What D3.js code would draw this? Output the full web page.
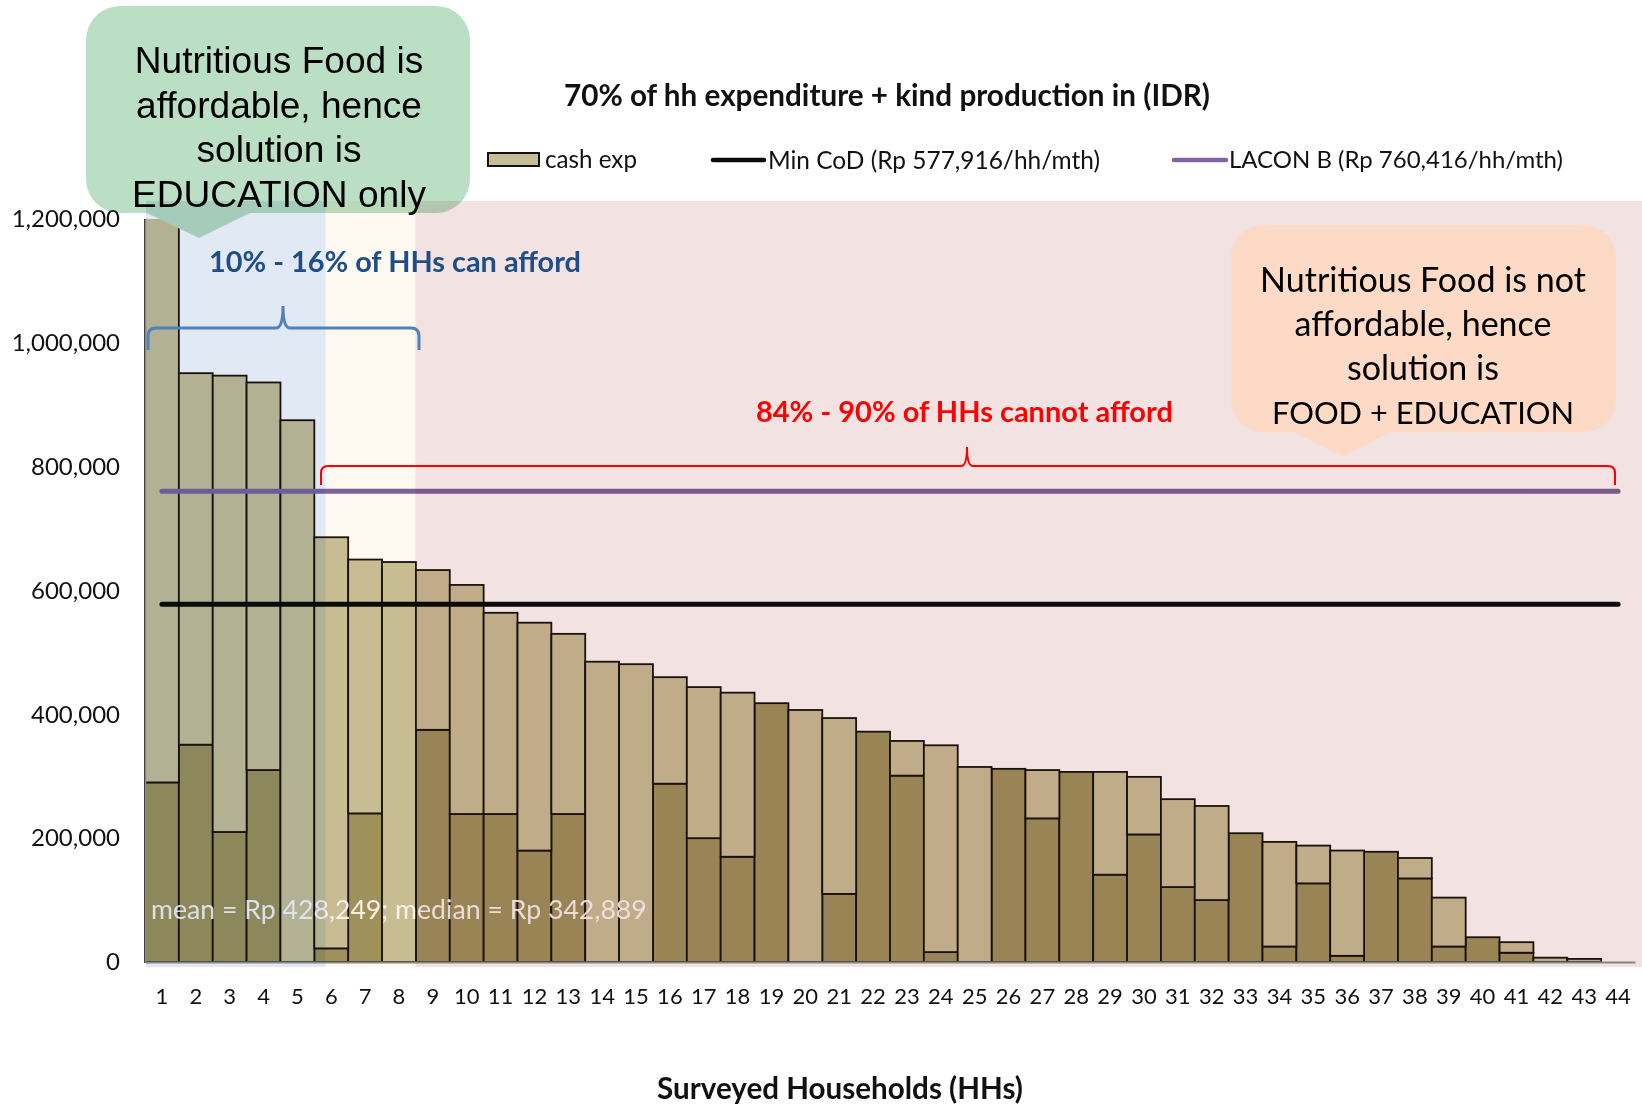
<!DOCTYPE html>
<html>
<head>
<meta charset="utf-8">
<script src="https://cdn.jsdelivr.net/npm/d3@7"></script>
<style>
  html, body { margin: 0; padding: 0; background: #fff; }
  svg { display: block; }
  .tint { mix-blend-mode: multiply; }
</style>
</head>
<body>
<svg id="chart" width="1642" height="1104"></svg>
<script>
// ---- data -------------------------------------------------------------
// surveyed households, ranked by total monthly value (IDR)
const households = d3.range(1, 45);

// in-kind production (lower, darker segment)
const kindProduction = [
  290000, 351000, 210000, 310000, 0, 22000, 240000, 0, 375000, 239000,
  239000, 180000, 239000, 0, 0, 288000, 200000, 170000, 418000, 0,
  110000, 372000, 301000, 16000, 0, 312000, 232000, 307000, 141000, 206000,
  121000, 100000, 208000, 25000, 127000, 10000, 178000, 135000, 25000, 40000,
  15000, 0, 0, 0
];

// cash expenditure (upper, lighter segment)
const cashExp = [
  1700000, 600000, 737000, 626000, 875000, 664000, 410000, 646000, 258000, 370000,
  325000, 368000, 291000, 485000, 481000, 172000, 244000, 265000, 0, 407000,
  284000, 0, 56000, 334000, 315000, 0, 78000, 0, 166000, 93000,
  142000, 152000, 0, 169000, 61000, 170000, 0, 33000, 79000, 0,
  17000, 7000, 5000, 0
];

// reference cost-of-diet thresholds (Rp / hh / month)
const minCoD = 577916;
const laconB = 760416;

const yTicks = [0, 200000, 400000, 600000, 800000, 1000000, 1200000];

const seriesKeys = ["kind", "cash"];
const seriesColors = { kind: "#A09560", cash: "#CAC29B" };

// ---- setup ------------------------------------------------------------
const svg = d3.select("#chart");
const W = 1642, H = 1104;
const plot = { left: 145, right: 1635, top: 219, bottom: 962 };

svg.append("rect").attr("width", W).attr("height", H).attr("fill", "#fff");

const x = d3.scaleBand().domain(households).range([plot.left, plot.right]).padding(0);
const y = d3.scaleLinear().domain([0, 1200000]).range([plot.bottom, plot.top]);

const CAL = "Lato, 'Open Sans', sans-serif";
const ARIAL = "'Liberation Sans', Arial, sans-serif";

// scale a text's font size so that it spans the given width
function fitText(t, width) {
  const len = t.node().getComputedTextLength();
  const fs = parseFloat(t.attr("font-size"));
  t.attr("font-size", (fs * width / len).toFixed(2));
  return t;
}

svg.append("clipPath").attr("id", "plotClip")
  .append("rect")
  .attr("x", plot.left - 5).attr("y", plot.top)
  .attr("width", W - plot.left + 5).attr("height", plot.bottom - plot.top + 10);

// ---- stacked bars -----------------------------------------------------
const rows = households.map((h, i) => ({ hh: h, kind: kindProduction[i], cash: cashExp[i] }));
const stacked = d3.stack().keys(seriesKeys)(rows);

const barG = svg.append("g").attr("clip-path", "url(#plotClip)");
barG.selectAll("g.layer")
  .data(stacked)
  .join("g")
  .attr("class", "layer")
  .attr("fill", d => seriesColors[d.key])
  .selectAll("rect")
  .data(d => d)
  .join("rect")
  .attr("x", d => x(d.data.hh))
  .attr("width", x.bandwidth())
  .attr("y", d => y(d[1]))
  .attr("height", d => y(d[0]) - y(d[1]))
  .attr("stroke", "#1a130e")
  .attr("stroke-width", 1.8);

// ---- threshold lines --------------------------------------------------
const ends = [households[0], households[households.length - 1]];
const hLine = v => d3.line()
  .x(d => x(d) + x.bandwidth() / 2)
  .y(() => y(v))(ends);

svg.append("path").attr("d", hLine(minCoD))
  .attr("stroke", "#0b0b0b").attr("stroke-width", 5)
  .attr("stroke-linecap", "round").attr("fill", "none");
svg.append("path").attr("d", hLine(laconB))
  .attr("stroke", "#8064A2").attr("stroke-width", 5)
  .attr("stroke-linecap", "round").attr("fill", "none");

// ---- summary statistic note -------------------------------------------
const meanTxt = svg.append("text")
  .attr("x", 151).attr("y", 910).attr("dy", "0.35em")
  .attr("font-family", CAL).attr("font-size", 26)
  .attr("fill", "#fff").attr("fill-opacity", 0.92)
  .text("mean = Rp 428,249; median = Rp 342,889");
fitText(meanTxt, 496);

// ---- callout: affordable -----------------------------------------------
const greenCallout = svg.append("g");
greenCallout.append("path")
  .attr("d", "M120,6 H436 A34,34 0 0 1 470,40 V179 A34,34 0 0 1 436,213 H250 L199,238 L147,213 H120 A34,34 0 0 1 86,179 V40 A34,34 0 0 1 120,6 Z")
  .attr("fill", "#BBDFC4");
const greenLines = ["Nutritious Food is", "affordable, hence", "solution is", "EDUCATION only"];
const greenY = [60, 105, 149, 194];
const gText = greenCallout.selectAll("text")
  .data(greenLines)
  .join("text")
  .attr("x", 279).attr("y", (d, i) => greenY[i]).attr("dy", "0.35em")
  .attr("text-anchor", "middle")
  .attr("font-family", ARIAL).attr("font-size", 34).attr("fill", "#000")
  .text(d => d);
{
  const widest = gText.filter((d, i) => i === 3);
  fitText(widest, 294);
  gText.attr("font-size", widest.attr("font-size"));
}

// ---- tinted household groups (multiply) --------------------------------
const bands = [
  { x0: 146, x1: 325.5, color: "#E1E9F4" },
  { x0: 325.5, x1: 415.5, color: "#FDF8F0" },
  { x0: 415.5, x1: W, color: "#F3E2E2" }
];
svg.append("g").selectAll("rect")
  .data(bands)
  .join("rect")
  .attr("class", "tint")
  .attr("x", d => d.x0).attr("width", d => d.x1 - d.x0)
  .attr("y", 201).attr("height", 967 - 201)
  .attr("fill", d => d.color);

// ---- axes -------------------------------------------------------------
const yAxis = svg.append("g")
  .attr("transform", `translate(${plot.left},0)`)
  .call(d3.axisLeft(y).tickValues(yTicks).tickFormat(d3.format(",")).tickSize(0).tickPadding(25));
yAxis.select(".domain").attr("stroke", "#8a8a8a").attr("stroke-width", 1.5);
yAxis.selectAll("text")
  .attr("font-family", CAL).attr("font-size", 24).attr("fill", "#111");

const xAxis = svg.append("g")
  .attr("transform", `translate(0,${plot.bottom})`)
  .call(d3.axisBottom(x).tickSize(0).tickPadding(26));
xAxis.select(".domain").attr("stroke", "#858585").attr("stroke-width", 2);
xAxis.selectAll("text")
  .attr("font-family", CAL).attr("font-size", 22).attr("fill", "#111");

const xTitle = svg.append("text")
  .attr("x", 840).attr("y", 1089).attr("dy", "0.35em")
  .attr("text-anchor", "middle")
  .attr("font-family", CAL).attr("font-weight", "bold").attr("font-size", 26)
  .attr("fill", "#111")
  .text("Surveyed Households (HHs)");
fitText(xTitle, 366);

// ---- title & legend ---------------------------------------------------
const title = svg.append("text")
  .attr("x", 887).attr("y", 96).attr("dy", "0.35em")
  .attr("text-anchor", "middle")
  .attr("font-family", CAL).attr("font-weight", "bold").attr("font-size", 27)
  .attr("fill", "#111")
  .text("70% of hh expenditure + kind production in (IDR)");
fitText(title, 646);

const legend = svg.append("g");
legend.append("rect")
  .attr("x", 488).attr("y", 153).attr("width", 51).attr("height", 13)
  .attr("fill", "#C5BD97").attr("stroke", "#111").attr("stroke-width", 2);
fitText(legend.append("text")
  .attr("x", 545).attr("y", 160).attr("dy", "0.35em")
  .attr("font-family", CAL).attr("font-size", 22).attr("fill", "#111")
  .text("cash exp"), 92);

legend.append("line")
  .attr("x1", 713).attr("x2", 764).attr("y1", 160).attr("y2", 160)
  .attr("stroke", "#0b0b0b").attr("stroke-width", 4.5).attr("stroke-linecap", "round");
fitText(legend.append("text")
  .attr("x", 768).attr("y", 160).attr("dy", "0.35em")
  .attr("font-family", CAL).attr("font-size", 22).attr("fill", "#111")
  .text("Min CoD (Rp 577,916/hh/mth)"), 332);

legend.append("line")
  .attr("x1", 1174).attr("x2", 1226).attr("y1", 160).attr("y2", 160)
  .attr("stroke", "#8064A2").attr("stroke-width", 4.5).attr("stroke-linecap", "round");
fitText(legend.append("text")
  .attr("x", 1229).attr("y", 160).attr("dy", "0.35em")
  .attr("font-family", CAL).attr("font-size", 22).attr("fill", "#111")
  .text("LACON B (Rp 760,416/hh/mth)"), 334);

// ---- group annotations ------------------------------------------------
svg.append("path")
  .attr("d", "M148,350 L148,336 Q148,328 156,328 L276,328 Q283,328 283,306 Q283,328 290,328 L411,328 Q419,328 419,336 L419,350")
  .attr("fill", "none").attr("stroke", "#4F81BD").attr("stroke-width", 3);
fitText(svg.append("text")
  .attr("x", 209).attr("y", 262).attr("dy", "0.35em")
  .attr("font-family", CAL).attr("font-weight", "bold").attr("font-size", 26)
  .attr("fill", "#1F4E87")
  .text("10% - 16% of HHs can afford"), 372);

svg.append("path")
  .attr("d", "M321,485 L321,473 Q321,466 328,466 L961,466 Q967,466 967,447 Q967,466 973,466 L1608,466 Q1615,466 1615,473 L1615,485")
  .attr("fill", "none").attr("stroke", "#FF0000").attr("stroke-width", 2);
fitText(svg.append("text")
  .attr("x", 756).attr("y", 412).attr("dy", "0.35em")
  .attr("font-family", CAL).attr("font-weight", "bold").attr("font-size", 28)
  .attr("fill", "#FF0000")
  .text("84% - 90% of HHs cannot afford"), 417);

// ---- callout: not affordable ------------------------------------------
const peach = svg.append("g");
peach.append("path")
  .attr("d", "M1263,225 H1584 A32,32 0 0 1 1616,257 V400 A32,32 0 0 1 1584,432 H1390 L1343,457 L1293,432 H1263 A32,32 0 0 1 1231,400 V257 A32,32 0 0 1 1263,225 Z")
  .attr("fill", "#FCDAC6");
const peachLines = ["Nutritious Food is not", "affordable, hence", "solution is", "FOOD + EDUCATION"];
const peachY = [280, 324, 368, 413];
const pText = peach.selectAll("text")
  .data(peachLines)
  .join("text")
  .attr("x", 1423).attr("y", (d, i) => peachY[i]).attr("dy", "0.35em")
  .attr("text-anchor", "middle")
  .attr("font-family", CAL).attr("font-size", 32).attr("fill", "#000")
  .text(d => d);
{
  const widest = pText.filter((d, i) => i === 0);
  fitText(widest, 326);
  pText.attr("font-size", widest.attr("font-size"));
  // the all-caps line runs wide in this face; keep it to its own span
  fitText(pText.filter((d, i) => i === 3), 302);
}
</script>
</body>
</html>
